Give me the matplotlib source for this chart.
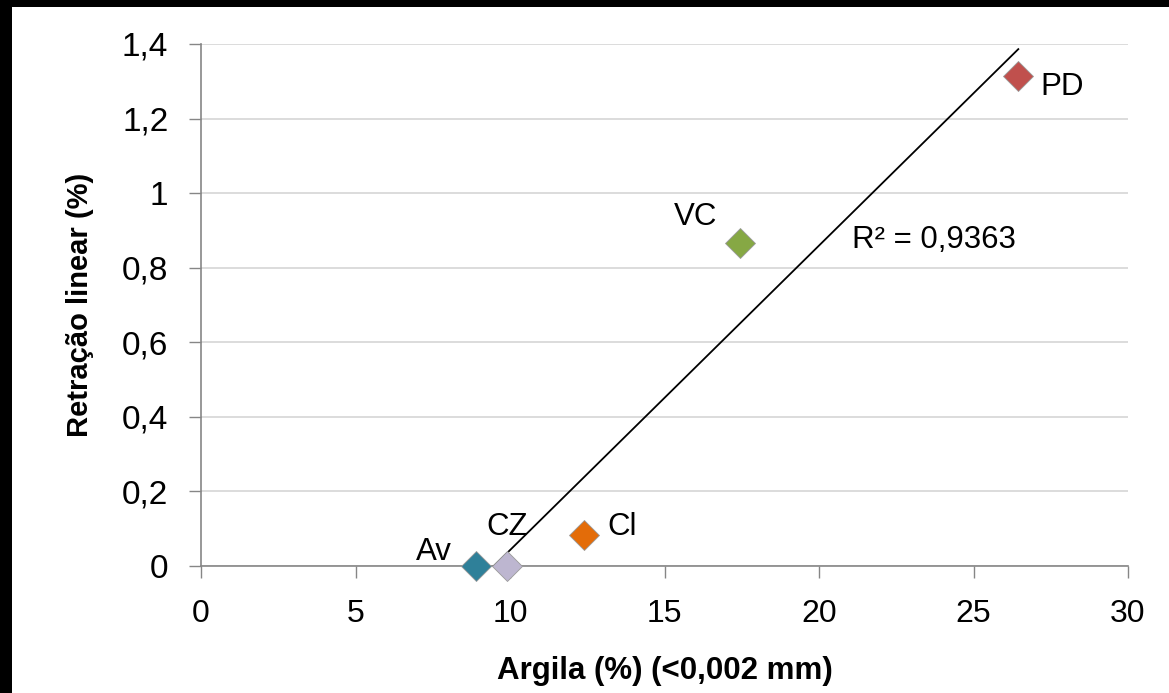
import matplotlib.pyplot as plt
import matplotlib.patches as mpatches
import numpy as np

# Dados
solos = ["Av", "CZ", "Cl", "VC", "PD"]
argila = [8.9, 9.9, 12.4, 17.45, 26.45]
retracao = [0.0, 0.0, 0.083, 0.865, 1.315]
cores = ["#2F8099", "#BDB6D0", "#E36C09", "#86A844", "#C0504D"]
xticks = [0, 5, 10, 15, 20, 25, 30]
yticks = [0, 0.2, 0.4, 0.6, 0.8, 1.0, 1.2, 1.4]
r2_texto = "R² = 0,9363"

plt.rcParams["font.family"] = ["Liberation Sans Narrow", "Liberation Sans", "DejaVu Sans"]

fig = plt.figure(figsize=(11.69, 6.93), dpi=100)
fig.patch.set_facecolor("white")
# moldura preta à esquerda e em cima
fig.patches.append(mpatches.Rectangle((0, 0), 12 / 1169, 1, transform=fig.transFigure,
                                      facecolor="black", edgecolor="none", zorder=-10))
fig.patches.append(mpatches.Rectangle((0, 1 - 7 / 693), 1, 7 / 693, transform=fig.transFigure,
                                      facecolor="black", edgecolor="none", zorder=-10))

ax = fig.add_axes([201 / 1169, 127 / 693, 927 / 1169, 522 / 693])
ax.set_facecolor("white")

# linha de tendência
coef = np.polyfit(argila, retracao, 1)
xt = np.array([min(argila), max(argila)])
ax.plot(xt, np.polyval(coef, xt), color="black", lw=1.3, zorder=3)

for x, y, c in zip(argila, retracao, cores):
    ax.plot(x, y, marker="D", ms=15, color=c, mec="#9a9a9a", mew=0.6, zorder=4,
            clip_on=False)

# rótulos dos pontos
fs = 22.5
ax.text(8.12, 0.016, "Av", ha="right", va="baseline", fontsize=fs)
ax.text(9.92, 0.083, "CZ", ha="center", va="baseline", fontsize=fs)
ax.text(13.15, 0.083, "Cl", ha="left", va="baseline", fontsize=fs)
ax.text(16.7, 0.914, "VC", ha="right", va="baseline", fontsize=fs)
ax.text(27.15, 1.263, "PD", ha="left", va="baseline", fontsize=fs)
ax.text(21.07, 0.853, r2_texto, ha="left", va="baseline", fontsize=fs)

ax.set_xlim(0, 30)
ax.set_ylim(0, 1.4)
ax.set_xticks(xticks)
ax.set_yticks(yticks)
ax.set_xticklabels([str(v) for v in xticks])
ax.set_yticklabels([f"{v:g}".replace(".", ",") for v in yticks])
ax.tick_params(axis="both", color="#868686", length=8.5, width=1)
ax.tick_params(axis="x", labelsize=23, pad=15.5)
ax.tick_params(axis="y", labelsize=24, pad=15)

ax.grid(axis="y", color="#d9d9d9", lw=1.3)
ax.set_axisbelow(True)
for s in ["top", "right"]:
    ax.spines[s].set_visible(False)
for s in ["left", "bottom"]:
    ax.spines[s].set_color("#868686")
    ax.spines[s].set_linewidth(1.2)

ax.set_xlabel("Argila (%) (<0,002 mm)", fontsize=22.5, fontweight="bold", labelpad=19)
ax.set_ylabel("Retração linear (%)", fontsize=21, fontweight="bold", labelpad=20)

fig.savefig("out.png", dpi=100, facecolor=fig.get_facecolor())
